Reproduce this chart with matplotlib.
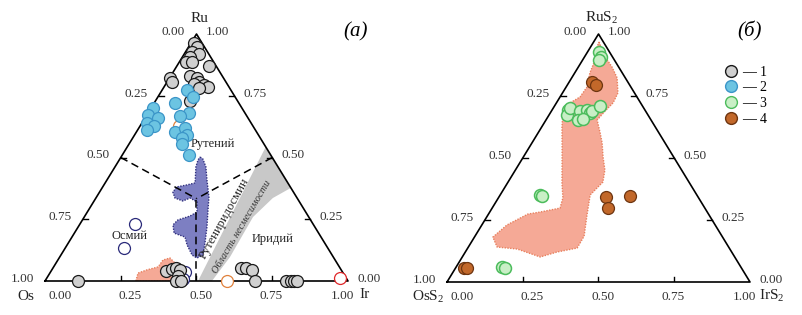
import matplotlib.pyplot as plt
import numpy as np
from matplotlib.patches import Polygon
from matplotlib.lines import Line2D

plt.rcParams['font.family'] = ['Liberation Serif', 'DejaVu Serif']
plt.rcParams['mathtext.fontset'] = 'custom'
plt.rcParams['mathtext.rm'] = 'Liberation Serif'
plt.rcParams['mathtext.it'] = 'Liberation Serif:italic'

# составы в долях: Ru и Ir, Os = 1 - Ru - Ir
# (а) твердые растворы Os-Ir-Ru
g1_ru = [0.964, 0.947, 0.927, 0.919, 0.907, 0.887, 0.887, 0.870, 0.822, 0.806, 0.830, 0.822,
         0.806, 0.798, 0.794, 0.785, 0.781, 0.729,
         0.0, 0.040, 0.049, 0.053, 0.045, 0.020, 0.0, 0.0, 0.053, 0.053, 0.045, 0.0,
         0.0, 0.0, 0.0, 0.0]
g1_ir = [0.010, 0.028, 0.021, 0.048, 0.025, 0.022, 0.042, 0.106, 0.000, 0.016, 0.064, 0.091,
         0.105, 0.093, 0.128, 0.145, 0.117, 0.115,
         0.109, 0.379, 0.395, 0.406, 0.423, 0.429, 0.432, 0.449, 0.620, 0.637, 0.661, 0.693,
         0.795, 0.812, 0.822, 0.832]
g2_ru = [0.773, 0.745, 0.721, 0.680, 0.668, 0.700, 0.672, 0.660, 0.640, 0.628, 0.611, 0.603,
         0.619, 0.591, 0.579, 0.555, 0.510]
g2_ir = [0.082, 0.116, 0.069, 0.135, 0.112, 0.006, 0.004, 0.043, 0.017, 0.046, 0.031, 0.127,
         0.152, 0.173, 0.162, 0.175, 0.220]
osm_ru = [0.231, 0.134, 0.036, 0.008]
osm_ir = [0.182, 0.194, 0.444, 0.451]
orange_ru = [0.628, 0.0]
orange_ir = [0.128, 0.602]
red_ru = [0.012]
red_ir = [0.968]

# поле рутениридосмина
viol_ru = [0.502, 0.494, 0.462, 0.409, 0.340, 0.279, 0.219, 0.154, 0.105, 0.093, 0.105, 0.146,
           0.178, 0.194, 0.227, 0.247, 0.263, 0.279, 0.320, 0.336, 0.324, 0.336, 0.360, 0.381,
           0.389, 0.397, 0.462, 0.490]
viol_ir = [0.261, 0.274, 0.300, 0.330, 0.371, 0.398, 0.425, 0.451, 0.469, 0.455, 0.433, 0.396,
           0.373, 0.329, 0.309, 0.315, 0.347, 0.362, 0.342, 0.311, 0.293, 0.261, 0.242, 0.245,
           0.274, 0.297, 0.267, 0.260]
pinkA_ru = [0.0, 0.032, 0.045, 0.057, 0.085, 0.093, 0.077, 0.053, 0.0]
pinkA_ir = [0.300, 0.291, 0.314, 0.345, 0.347, 0.366, 0.387, 0.419, 0.462]
# область несмесимости
gap_ru = [0.0, 0.0, 0.097, 0.259, 0.336, 0.377, 0.543]
gap_ir = [0.505, 0.551, 0.562, 0.557, 0.584, 0.623, 0.457]

# (б) сульфиды OsS2-IrS2-RuS2
g3_ru = [0.927, 0.907, 0.895, 0.694, 0.673, 0.702, 0.690, 0.694, 0.681, 0.690, 0.710, 0.653,
         0.657, 0.351, 0.347, 0.060, 0.056]
g3_ir = [0.038, 0.055, 0.054, 0.052, 0.060, 0.055, 0.094, 0.115, 0.131, 0.134, 0.150, 0.106,
         0.121, 0.131, 0.140, 0.152, 0.163]
g4_ru = [0.806, 0.794, 0.343, 0.298, 0.347, 0.056, 0.056]
g4_ir = [0.076, 0.095, 0.353, 0.381, 0.430, 0.028, 0.038]
pinkB_ru = [0.968, 0.915, 0.867, 0.823, 0.762, 0.722, 0.685, 0.653, 0.601, 0.560, 0.504, 0.452,
            0.403, 0.351, 0.270, 0.185, 0.137, 0.121, 0.101, 0.133, 0.141, 0.181, 0.230, 0.274,
            0.282, 0.298, 0.339, 0.399, 0.532, 0.625, 0.681, 0.722, 0.746, 0.786, 0.843, 0.895,
            0.948]
pinkB_ir = [0.018, 0.061, 0.111, 0.150, 0.183, 0.187, 0.176, 0.169, 0.205, 0.232, 0.263, 0.295,
            0.313, 0.297, 0.327, 0.360, 0.361, 0.303, 0.257, 0.165, 0.095, 0.061, 0.083, 0.130,
            0.166, 0.224, 0.213, 0.180, 0.114, 0.067, 0.042, 0.045, 0.066, 0.069, 0.050, 0.041,
            0.021]

tick_vals = [0.0, 0.25, 0.5, 0.75, 1.0]

C1 = dict(facecolor='#d0d0d0', edgecolor='#1a1a1a')
C2 = dict(facecolor='#6cc4e2', edgecolor='#3b95c8')
C3 = dict(facecolor='#c9efc6', edgecolor='#4cbc5c')
C4 = dict(facecolor='#c2682a', edgecolor='#6e3510')


def tern(ru, ir):
    ru = np.asarray(ru, float)
    ir = np.asarray(ir, float)
    return ir + ru / 2, ru


def frame(ax, names, W, H, right_dx=17):
    ax.set_xlim(0, 1)
    ax.set_ylim(0, 1)
    ax.axis('off')
    ax.plot([0, 1, 0.5, 0], [0, 0, 1, 0], color='k', lw=1.2, zorder=3, clip_on=False)
    L = 5
    for f in tick_vals[1:-1]:
        ax.plot([f, f], [0, L / H], color='k', lw=1, zorder=3)
        x, y = 0.5 * (1 - f), 1 - f
        ax.plot([x, x + L / W], [y, y], color='k', lw=1, zorder=3)
        x, y = 1 - f / 2, f
        ax.plot([x, x - L / W], [y, y], color='k', lw=1, zorder=3)
    kw = dict(textcoords='offset pixels', ha='center', va='center', fontsize=9.5,
              color='#333333', annotation_clip=False)
    for f in tick_vals:
        ax.annotate('%.2f' % f, (f, 0), xytext=(15 - 21 * f, -15), **kw)
        ax.annotate('%.2f' % f, (0.5 * (1 - f), 1 - f), xytext=(-23, 2), **kw)
        ax.annotate('%.2f' % f, (1 - f / 2, f), xytext=(21, 2), **kw)
    kw = dict(textcoords='offset pixels', ha='center', va='center', fontsize=11,
              color='#222222', annotation_clip=False)
    ax.annotate(names[0], (0.5, 1), xytext=(3, 16), **kw)
    ax.annotate(names[1], (0, 0), xytext=(-19, -15), **kw)
    ax.annotate(names[2], (1, 0), xytext=(right_dx, -14), **kw)


def poly(ax, ru, ir, fc, ec, z=1):
    x, y = tern(ru, ir)
    ax.add_patch(Polygon(np.column_stack([x, y]), closed=True, facecolor=fc, edgecolor=ec,
                         lw=1.0, linestyle=(0, (1, 1)), zorder=z))


def pts(ax, ru, ir, s=74, lw=0.9, **kw):
    x, y = tern(ru, ir)
    ax.scatter(x, y, s=s, linewidths=lw, zorder=5, clip_on=False, **kw)


fig = plt.figure(figsize=(8.03, 3.15), dpi=100)
axA = fig.add_axes([45 / 803, 34 / 315, 303 / 803, 247 / 315])
axB = fig.add_axes([447 / 803, 33 / 315, 303 / 803, 248 / 315])

# ---- (а)
frame(axA, ['Ru', 'Os', 'Ir'], 303, 247)
x, y = tern(gap_ru, gap_ir)
axA.add_patch(Polygon(np.column_stack([x, y]), closed=True, facecolor='#c8c8c8',
                      edgecolor='none', zorder=1))
poly(axA, viol_ru, viol_ir, '#7d7fc2', '#30307e')
poly(axA, pinkA_ru, pinkA_ir, '#f5a996', '#e8805e')

cx, cy = tern(1 / 3, 1 / 3)
for ru, ir in [(0.5, 0.0), (0.5, 0.5), (0.0, 0.5)]:
    ex, ey = tern(ru, ir)
    axA.plot([ex, cx], [ey, cy], color='k', lw=1.1, linestyle=(0, (5, 3)), zorder=2)

pts(axA, osm_ru, osm_ir, facecolor='white', edgecolor='#2a2a7a')
pts(axA, orange_ru, orange_ir, facecolor='white', edgecolor='#e0813d')
pts(axA, red_ru, red_ir, facecolor='white', edgecolor='#e0282a')
pts(axA, g1_ru, g1_ir, **C1)
pts(axA, g2_ru, g2_ir, **C2)

axA.text(*tern(0.555, 0.277), 'Рутений', fontsize=9, ha='center', va='center', color='#222222')
axA.text(*tern(0.182, 0.188), 'Осмий', fontsize=9, ha='center', va='center', color='#222222')
axA.text(*tern(0.17, 0.667), 'Иридий', fontsize=9, ha='center', va='center', color='#222222')
axA.text(*tern(0.255, 0.463), 'Рутениридосмин', fontsize=9, rotation=61, ha='center',
         va='center', color='#222222')
axA.text(*tern(0.22, 0.539), 'Область несмесимости', fontsize=7.5, rotation=59.5,
         style='italic', ha='center', va='center', color='#333333')
axA.text(1.025, 1.01, '(а)', transform=axA.transAxes, fontsize=15, style='italic',
         ha='center', va='center')

# ---- (б)
frame(axB, ['RuS$_2$', 'OsS$_2$', 'IrS$_2$'], 303, 248, right_dx=22)
poly(axB, pinkB_ru, pinkB_ir, '#f5a996', '#e8805e')
pts(axB, g3_ru, g3_ir, lw=1.1, **C3)
pts(axB, g4_ru, g4_ir, **C4)
axB.text(1.0, 1.01, '(б)', transform=axB.transAxes, fontsize=15, style='italic',
         ha='center', va='center')

handles = [Line2D([], [], ls='none', marker='o', ms=8.5, mew=1, mfc=c['facecolor'],
                  mec=c['edgecolor']) for c in (C1, C2, C3, C4)]
labels = ['— $\\mathit{%d}$' % i for i in range(1, 5)]
axB.legend(handles, labels, loc='upper left', bbox_to_anchor=(0.89, 0.905), frameon=False,
           fontsize=10, handlelength=1, handletextpad=0.3, labelspacing=0.12,
           borderpad=0)

plt.savefig('out.png', dpi=100)
